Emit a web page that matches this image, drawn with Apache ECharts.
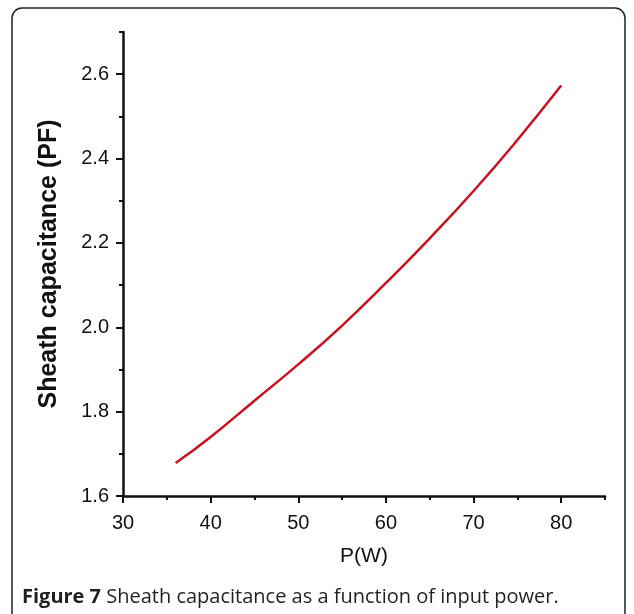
<!DOCTYPE html>
<html>
<head>
<meta charset="utf-8">
<script src="https://cdn.jsdelivr.net/npm/echarts@6/dist/echarts.min.js"></script>
<style>
  html, body { margin: 0; padding: 0; background: #fff; }
  #chart { width: 634px; height: 614px; }
</style>
</head>
<body>
<div id="chart"></div>
<script>
  // input power (W) and sheath capacitance (pF)
  var power = [36, 40, 45, 50, 55, 60, 65, 70, 75, 80];
  var capacitance = [1.678, 1.740, 1.826, 1.912, 2.004, 2.105, 2.211, 2.323, 2.444, 2.573];

  var xTicks = { min: 30, max: 85, major: 10, minor: 5 };
  var yTicks = { min: 1.6, max: 2.7, major: 0.2, minor: 0.1 };

  var points = [];
  for (var i = 0; i < power.length; i++) {
    points.push([power[i], capacitance[i]]);
  }

  var black = '#111';
  var labelFont = 'Liberation Sans, Arial, sans-serif';

  var chart = echarts.init(document.getElementById('chart'));
  chart.setOption({
    animation: false,
    grid: { left: 123, right: 29, top: 32, bottom: 118 },
    graphic: [
      {
        type: 'rect',
        shape: { x: 12, y: 8, width: 613, height: 620, r: 10 },
        style: { fill: 'none', stroke: '#222', lineWidth: 1.5 },
        z: -1
      },
      {
        type: 'text',
        left: 22,
        top: 587,
        style: {
          rich: {
            b: { fontWeight: 'bold', fontSize: 20, fontFamily: 'Open Sans, sans-serif', fill: '#231f20' },
            n: { fontSize: 20, fontFamily: 'Open Sans, sans-serif', fill: '#231f20' }
          },
          text: '{b|Figure 7 }{n|Sheath capacitance as a function of input power.}'
        }
      }
    ],
    xAxis: [
      {
        type: 'value',
        min: xTicks.min,
        max: xTicks.max,
        interval: xTicks.major,
        position: 'bottom',
        name: 'P(W)',
        nameLocation: 'middle',
        nameGap: 50,
        nameTextStyle: { color: black, fontSize: 21, fontFamily: labelFont },
        axisLine: { lineStyle: { color: black, width: 2.5 } },
        axisTick: { length: 7, lineStyle: { color: black, width: 2 } },
        axisLabel: { color: black, fontSize: 20, fontFamily: labelFont, margin: 17, showMaxLabel: false },
        splitLine: { show: false }
      },
      {
        type: 'value',
        min: xTicks.min,
        max: xTicks.max,
        interval: xTicks.minor,
        position: 'bottom',
        offset: 0,
        axisLine: { show: false },
        axisTick: { length: 4, lineStyle: { color: black, width: 2 } },
        axisLabel: { show: false },
        splitLine: { show: false }
      }
    ],
    yAxis: [
      {
        type: 'value',
        min: yTicks.min,
        max: yTicks.max,
        interval: yTicks.major,
        position: 'left',
        name: 'Sheath capacitance (PF)',
        nameLocation: 'middle',
        nameGap: 61,
        nameTextStyle: { color: black, fontSize: 25, fontWeight: 'bold', fontFamily: labelFont },
        axisLine: { show: true, lineStyle: { color: black, width: 2.5 } },
        axisTick: { show: true, length: 7, lineStyle: { color: black, width: 2 } },
        axisLabel: {
          color: black, fontSize: 20, fontFamily: labelFont, margin: 14, showMaxLabel: false,
          formatter: function (v) { return v.toFixed(1); }
        },
        splitLine: { show: false }
      },
      {
        type: 'value',
        min: yTicks.min,
        max: yTicks.max,
        interval: yTicks.minor,
        position: 'left',
        offset: 0,
        axisLine: { show: false },
        axisTick: { show: true, length: 4, lineStyle: { color: black, width: 2 } },
        axisLabel: { show: false },
        splitLine: { show: false }
      }
    ],
    series: [
      {
        type: 'line',
        data: points,
        smooth: true,
        showSymbol: false,
        lineStyle: { color: '#cc1020', width: 2.5 }
      }
    ]
  });
</script>
</body>
</html>
